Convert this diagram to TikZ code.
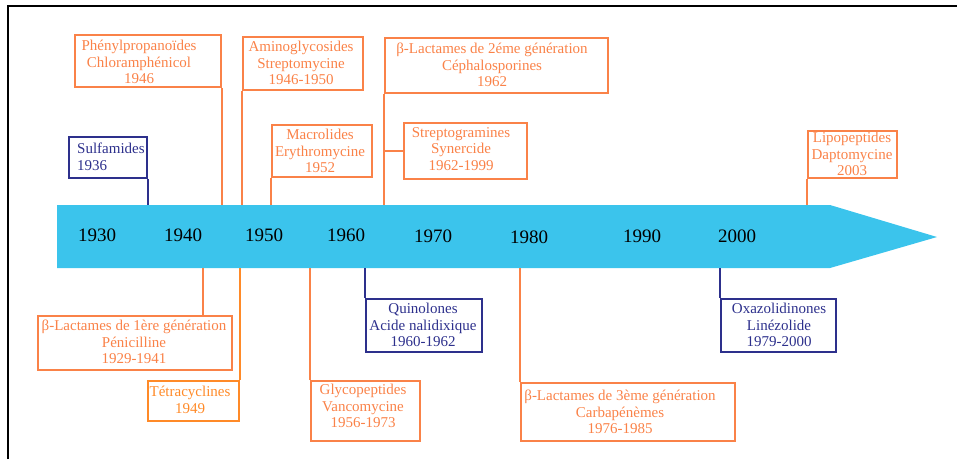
\documentclass[tikz,border=0pt]{standalone}
\usepackage{fontspec}
\setmainfont{Liberation Serif}
\newfontfamily\tms{Liberation Serif}
\definecolor{org}{RGB}{250,130,72}
\definecolor{orgb}{RGB}{255,138,40}
\definecolor{navy}{RGB}{45,48,140}
\definecolor{band}{RGB}{59,196,236}
\begin{document}
\begin{tikzpicture}[x=1pt,y=-1pt,
  obox/.style={draw=org,line width=1.6pt,minimum width=#1,inner sep=0pt},
  bbox/.style={draw=navy,line width=2pt,minimum width=#1,inner sep=0pt},
  otxt/.style={text=org,font=\tms\fontsize{15}{16.5}\selectfont,align=center,inner sep=0pt},
  btxt/.style={text=navy,font=\tms\fontsize{15}{16.5}\selectfont,align=center,inner sep=0pt},
  oline/.style={draw=org,line width=1.6pt},
  bline/.style={draw=navy,line width=2pt},
  year/.style={font=\tms\fontsize{19}{20}\selectfont,text=black,inner sep=0pt}]
\useasboundingbox (0,0) rectangle (957,459);
% frame
\draw[line width=2pt] (8,459) -- (8,6) -- (957,6);
% band
\fill[band] (57,205) -- (830,205) -- (937,237) -- (830,268) -- (57,268) -- cycle;
\coordinate (btop) at (57,205);
\coordinate (bbot) at (57,268);
% years
\node[year] (y1930) at (97,235) {1930};
\node[year] (y1940) at (183,235) {1940};
\node[year] (y1950) at (264,235) {1950};
\node[year] (y1960) at (346,235) {1960};
\node[year] (y1970) at (433,236) {1970};
\node[year] (y1980) at (529,237) {1980};
\node[year] (y1990) at (642,236) {1990};
\node[year] (y2000) at (737,236) {2000};
% top boxes
\node[obox=146pt,minimum height=52pt] (phen) at (148,61) {};
\node[otxt] (tphen) at (139,62) {Phénylpropanoïdes\\Chloramphénicol\\1946};
\node[obox=120pt,minimum height=53pt] (amino) at (303,63.5) {};
\node[otxt] (tamino) at (301,63) {Aminoglycosides\\Streptomycine\\1946-1950};
\node[obox=100pt,minimum height=52pt] (macro) at (322,151) {};
\node[otxt] (tmacro) at (320,151) {Macrolides\\Erythromycine\\1952};
\node[obox=223pt,minimum height=55pt] (blac2) at (496.5,65.5) {};
\node[otxt] (tblac2) at (492,65) {β-Lactames de 2éme génération\\Céphalosporines\\1962};
\node[obox=123pt,minimum height=56pt] (strep) at (465.5,151) {};
\node[otxt] (tstrep) at (461,149) {Streptogramines\\Synercide\\1962-1999};
\node[bbox=78pt,minimum height=41pt] (sulfa) at (108,157.5) {};
\node[btxt,align=left,anchor=west] (tsulfa) at (77,157) {Sulfamides\\1936};
\node[obox=89pt,minimum height=47pt] (lipo) at (852.5,154.5) {};
\node[otxt] (tlipo) at (852,154) {Lipopeptides\\Daptomycine\\2003};
% bottom boxes
\node[obox=194pt,minimum height=54pt] (blac1) at (135,343) {};
\node[otxt] (tblac1) at (134,342) {β-Lactames de 1ère génération\\Pénicilline\\1929-1941};
\node[draw=orgb,line width=1.6pt,minimum width=91pt,minimum height=40pt,inner sep=0pt] (tetra) at (193.5,401) {};
\node[otxt,text=orgb] (ttetra) at (190,400) {Tétracyclines\\1949};
\node[obox=109pt,minimum height=60pt] (glyco) at (365.5,411) {};
\node[otxt] (tglyco) at (363,406) {Glycopeptides\\Vancomycine\\1956-1973};
\node[bbox=116pt,minimum height=53pt] (quino) at (424,325.5) {};
\node[btxt] (tquino) at (423,325) {Quinolones\\Acide nalidixique\\1960-1962};
\node[obox=214pt,minimum height=58pt] (blac3) at (628,412) {};
\node[otxt] (tblac3) at (620,412) {β-Lactames de 3ème génération\\Carbapénèmes\\1976-1985};
\node[bbox=115pt,minimum height=53pt] (oxa) at (778.5,325.5) {};
\node[btxt] (toxa) at (779,325) {Oxazolidinones\\Linézolide\\1979-2000};
% connectors top
\draw[bline] (sulfa.south east) -- (sulfa.south east |- btop);
\draw[oline] (phen.south east) -- (phen.south east |- btop);
\draw[oline] (amino.south west) -- (amino.south west |- btop);
\draw[oline] (macro.south west) -- (macro.south west |- btop);
\draw[oline] (blac2.south west) -- (blac2.south west |- btop);
\draw[oline] (strep.west) -- (strep.west -| blac2.south west);
\draw[oline] (lipo.south west) -- (lipo.south west |- btop);
% connectors bottom
\draw[oline] ([xshift=68pt]blac1.north) -- ([xshift=68pt]blac1.north |- bbot);
\draw[draw=orgb,line width=1.6pt] (tetra.north east) -- (tetra.north east |- bbot);
\draw[oline] (glyco.north west) -- (glyco.north west |- bbot);
\draw[bline] (quino.north west) -- (quino.north west |- bbot);
\draw[oline] (blac3.north west) -- (blac3.north west |- bbot);
\draw[bline] (oxa.north west) -- (oxa.north west |- bbot);
\end{tikzpicture}
\end{document}
